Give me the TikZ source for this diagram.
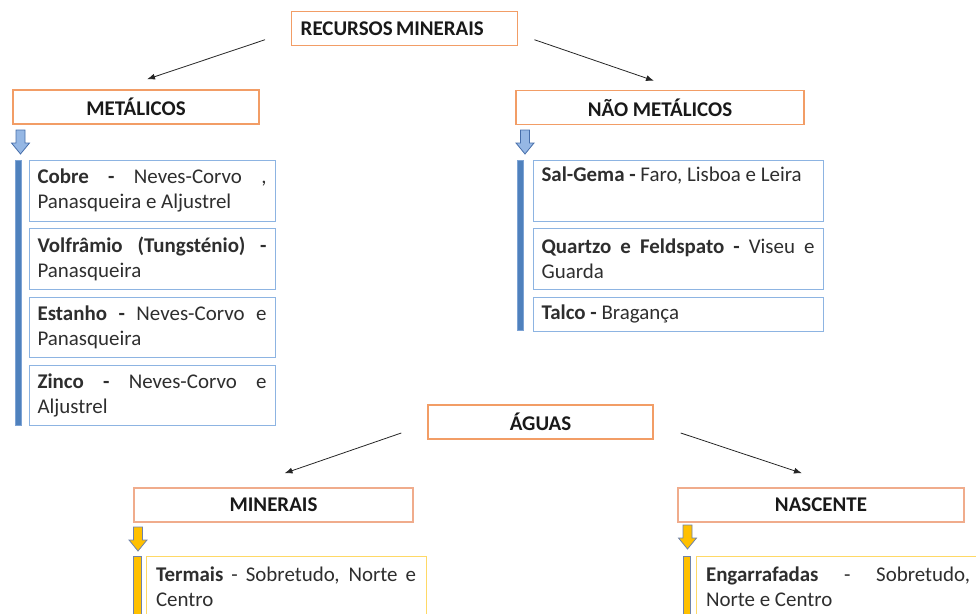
\documentclass[tikz,border=0pt]{standalone}
\usepackage{fontspec}
\setmainfont{Carlito}
\usetikzlibrary{calc,arrows.meta}

\definecolor{orgline}{RGB}{242,157,102}
\definecolor{pinkline}{RGB}{240,172,140}
\definecolor{boxblue}{RGB}{141,180,226}
\definecolor{barblue}{RGB}{79,129,189}
\definecolor{barblueline}{RGB}{125,163,212}
\definecolor{arrblue}{RGB}{149,183,228}
\definecolor{arrblueline}{RGB}{70,110,170}
\definecolor{baryel}{RGB}{255,192,0}
\definecolor{baryelline}{RGB}{110,130,170}
\definecolor{boxyel}{RGB}{255,217,102}

\def\downblk[#1](#2){\draw[#1,shift={(#2)}] (-4.5,0) -- (4.5,0) -- (4.5,13) -- (9,13) -- (0,24) -- (-9,13) -- (-4.5,13) -- cycle;}

\tikzset{
  headbox/.style={draw=orgline, line width=1.1pt, fill=white, minimum height=25.5pt,
    inner sep=0pt, font=\fontsize{15.7}{19}\selectfont\bfseries, text=black!90},
  headboxb/.style={headbox, draw=pinkline},
  itembox/.style={draw=boxblue, line width=0.8pt, anchor=north west, align=justify,
    inner xsep=6.4pt, inner ysep=3pt, font=\fontsize{15.7}{18.75}\selectfont, text=black!82},
  itemboxy/.style={itembox, draw=boxyel, inner xsep=7.5pt},
  conn/.style={-{Latex[length=6pt,width=4.5pt]}, line width=0.6pt, black!85},
  barb/.style={fill=barblue, draw=barblueline, line width=0.5pt},
  bary/.style={fill=baryel, draw=baryelline, line width=0.5pt},
  arrb/.style={fill=arrblue, draw=arrblueline, line width=0.6pt},
  arry/.style={fill=baryel, draw=baryelline, line width=0.6pt},
}

\begin{document}
\begin{tikzpicture}[x=0.75pt, y=-0.75pt]
  %%%%% START %%%%%
  \clip (0,0) rectangle (976,614);

  % headings
  \node[headbox, anchor=north west, minimum width=169.5pt, inner xsep=6.75pt,
    text width=156pt, align=left] (rec) at (291,11) {RECURSOS\hspace{2.5pt}MINERAIS};
  \node[headbox, minimum width=184.5pt] (met) at (136,107) {METÁLICOS};
  \node[headbox, minimum width=216pt] (naomet) at (660,107.5) {NÃO METÁLICOS};
  \node[headbox, minimum width=168.75pt] (aguas) at (540.5,422) {ÁGUAS};
  \node[headboxb, minimum width=209.25pt] (minerais) at (273.5,505) {MINERAIS};
  \node[headboxb, minimum width=214.5pt] (nascente) at (821,505) {NASCENTE};

  % connectors
  \draw[conn] ($(rec.west)+(-26,11)$) -- ($(met.north)+(11,-10)$);
  \draw[conn] ($(rec.east)+(16,11)$) -- ($(naomet.north)+(-6,-9)$);
  \draw[conn] ($(aguas.west)+(-26,11)$) -- ($(minerais.north)+(11,-14)$);
  \draw[conn] ($(aguas.east)+(27,11)$) -- ($(nascente.north)+(-19,-14)$);

  % block arrows and bars
  \downblk[arrb](20.5,130)
  \downblk[arrb](525,130)
  \downblk[arry](138,527)
  \downblk[arry](687.5,525)
  \draw[barb] (15.5,160) rectangle (21,425);
  \draw[barb] (517,160) rectangle (523,330);
  \draw[bary] (133.5,556) rectangle (141,630);
  \draw[bary] (683,556) rectangle (690.5,630);

  % metalicos
  \node[itembox, text width=171.7pt, minimum height=45.75pt] (cobre) at (28.5,159.5)
    {\textbf{Cobre -} Neves-Corvo ,\linebreak Panasqueira e Aljustrel};
  \node[itembox, text width=171.7pt, minimum height=45.75pt] (volf) at (28.5,228)
    {\textbf{Volfrâmio (Tungsténio) -}\linebreak Panasqueira};
  \node[itembox, text width=171.7pt, minimum height=45pt] (estanho) at (28.5,296.5)
    {\textbf{Estanho -} Neves-Corvo e\linebreak Panasqueira};
  \node[itembox, text width=171.7pt, minimum height=45pt] (zinco) at (28.5,364.5)
    {\textbf{Zinco -} Neves-Corvo e\linebreak Aljustrel};

  % nao metalicos
  \node[itembox, text width=204.7pt, minimum height=45.75pt] (salgema) at (532.5,159.5)
    {\textbf{Sal-Gema -} Faro, Lisboa e Leira\\\strut};
  \node[itembox, text width=204.7pt, minimum height=45.75pt] (quartzo) at (532.5,228)
    {\textbf{Quartzo e Feldspato -} Viseu e\linebreak Guarda};
  \node[itembox, text width=204.7pt, minimum height=25.5pt] (talco) at (532.5,296.5)
    {\textbf{Talco -} Bragança};

  % aguas
  \node[itemboxy, text width=195pt, minimum height=45.75pt] (termais) at (145.5,556)
    {\textbf{Termais} - Sobretudo, Norte e\linebreak Centro};
  \node[itemboxy, text width=198pt, minimum height=45.75pt] (engarraf) at (695.5,556)
    {\textbf{Engarrafadas} - Sobretudo,\linebreak Norte e Centro};
  %%%%% END %%%%%
\end{tikzpicture}
\end{document}
